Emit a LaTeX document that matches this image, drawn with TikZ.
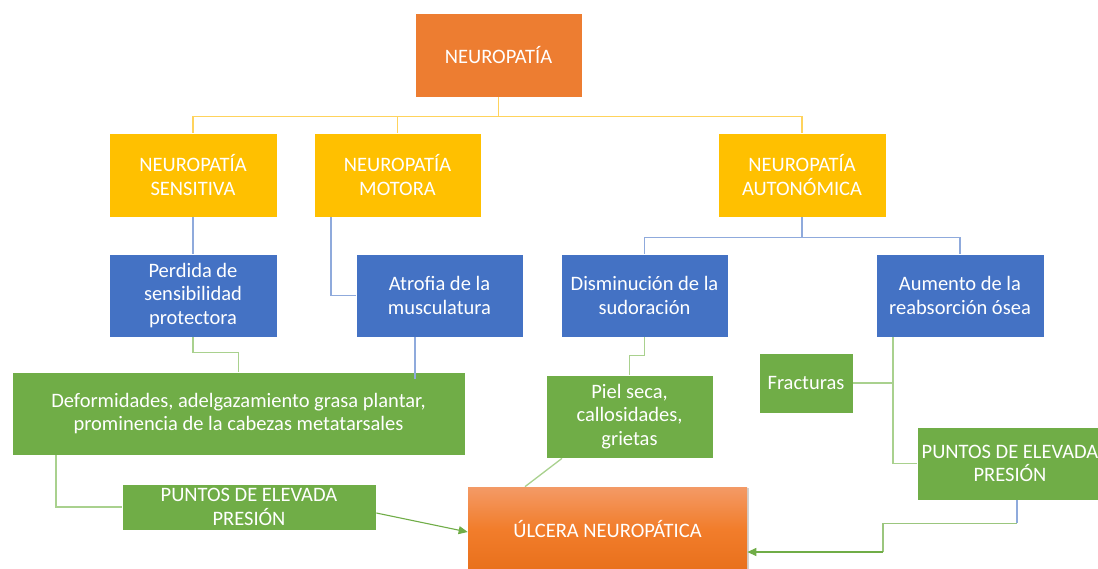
\documentclass[tikz,border=0pt]{standalone}
\usepackage{fontspec}
\setmainfont{Carlito}
\usetikzlibrary{calc,arrows.meta,shadows}
\definecolor{corange}{HTML}{ED7D31}
\definecolor{cyellow}{HTML}{FFC000}
\definecolor{cblue}{HTML}{4472C4}
\definecolor{cgreen}{HTML}{70AD47}
\definecolor{lyellow}{HTML}{FFD35C}
\definecolor{lblue}{HTML}{8FAADC}
\definecolor{lgreen}{HTML}{A9D18E}
\definecolor{agreen}{HTML}{70AD47}
\definecolor{utop}{HTML}{F39A66}
\definecolor{umid}{HTML}{F27D2B}
\definecolor{ubot}{HTML}{E8701C}
\newcommand{\fsz}{\fontsize{20.5}{23.5}\selectfont}
\tikzset{
  bx/.style={draw=white, line width=0.7pt, inner sep=0pt, align=center, text=white, font=\fsz},
  obox/.style={bx, fill=corange, minimum width=167, minimum height=84},
  ybox/.style={bx, fill=cyellow, minimum width=168, minimum height=84},
  bbox/.style={bx, fill=cblue, minimum width=168, minimum height=83},
  gbox/.style={bx, fill=cgreen},
  yl/.style={draw=lyellow, line width=1.3pt},
  bl/.style={draw=lblue, line width=1.3pt},
  gl/.style={draw=lgreen, line width=1.3pt},
  ga/.style={draw=agreen, line width=1.1pt, -{Triangle[width=8pt,length=9pt]}},
}
\begin{document}
\begin{tikzpicture}[x=1pt,y=-1pt]
\clip (0,0) rectangle (1098,569);
\fill[white] (0,0) rectangle (1098,569);
% nodes
\node[obox] (neu) at (498.5,55) {NEUROPATÍA};
\node[ybox] (sens) at (193,175) {NEUROPATÍA\\SENSITIVA};
\node[ybox, minimum width=167] (mot) at (397.5,175) {NEUROPATÍA\\MOTORA};
\node[ybox] (aut) at (802,175) {NEUROPATÍA\\AUTONÓMICA};
\node[bbox] (perd) at (193,295.5) {Perdida de\\sensibilidad\\protectora};
\node[bbox, minimum width=167] (atro) at (439.5,295.5) {Atrofia de la\\musculatura};
\node[bbox, minimum width=167] (dism) at (644.5,295.5) {Disminución de la\\sudoración};
\node[bbox] (aum) at (960,295.5) {Aumento de la\\reabsorción ósea};
\node[gbox, minimum width=453, minimum height=83] (defo) at (238.5,413.5) {Deformidades, adelgazamiento grasa plantar,\\prominencia de la cabezas metatarsales};
\node[gbox, minimum width=167, minimum height=83] (piel) at (629.5,416.5) {Piel seca,\\callosidades,\\grietas};
\node[gbox, minimum width=94, minimum height=60] (frac) at (806,383) {Fracturas};
\node[gbox, minimum width=254, minimum height=46] (pl) at (249,507) {PUNTOS DE ELEVADA\\PRESIÓN};
\node[gbox, minimum width=186, minimum height=73] (pr) at (1010,463.5) {PUNTOS DE ELEVADA\\PRESIÓN};
\node[bx, draw=none, top color=utop, bottom color=ubot, middle color=umid,
      minimum width=279, minimum height=84,
      drop shadow={opacity=0.35, shadow xshift=2pt, shadow yshift=-1pt}] (ulc) at (607.5,529) {ÚLCERA NEUROPÁTICA};
% connectors
\draw[yl] (neu.south) -- ++(0,19) coordinate (j);
\draw[yl] (j) -| (sens.north);
\draw[yl] (j) -| (mot.north);
\draw[yl] (j) -| (aut.north);
\draw[bl] (sens.south) -- (perd.north);
\draw[bl] ($(mot.south)+(-66.5,0)$) |- (atro.west);
\draw[bl] (aut.south) -- ++(0,20) coordinate (k);
\draw[bl] (k) -| (dism.north);
\draw[bl] (k) -| (aum.north);
\draw[gl] (perd.south) -- ++(0,15) -| (defo.north);
\draw[bl] ($(atro.south)+(-24.5,0)$) -- ++(0,42);
\draw[gl] ($(defo.south)+(-182.5,0)$) |- (pl.west);
\draw[ga] ($(pl.east)+(0,6)$) -- ($(ulc.west)+(0,3)$);
\draw[gl] (dism.south) -- ++(0,18) -| (piel.north);
\draw[gl] ($(piel.south)+(-67.5,0)$) -- ($(ulc.north)+(-82.5,0)$);
\draw[gl] ($(aum.south)+(-67,0)$) coordinate (m) |- (pr.west);
\draw[gl] (frac.east) -- (frac.east -| m);
\draw[bl] ($(pr.south)+(7,0)$) -- ++(0,23) coordinate (n);
\coordinate (q) at (883,552);
\draw[gl, draw=agreen!70] (n) -| (q);
\draw[ga] (q) -- (q -| ulc.east);
\end{tikzpicture}
\end{document}
